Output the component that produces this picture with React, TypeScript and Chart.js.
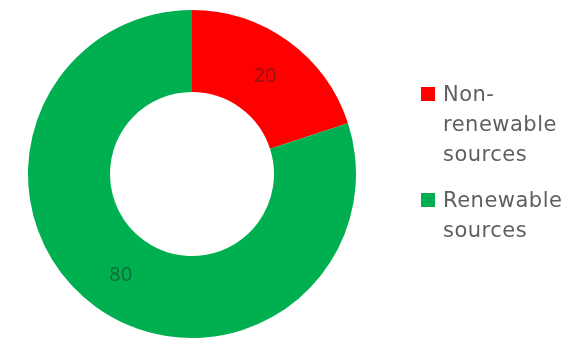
import React, { useEffect, useRef } from "react";
import { Chart, registerables } from "chart.js";

Chart.register(...registerables);

const categories = ["Non-renewable sources", "Renewable sources"];
const legendLines = [["Non-", "renewable", "sources"], ["Renewable", "sources"]];
const values = [20, 80];
const colors = ["#FF0000", "#00B050"];

const labelPlugin = {
  id: "sliceLabels",
  afterDatasetsDraw(chart: any) {
    const ctx = chart.ctx;
    const meta = chart.getDatasetMeta(0);
    ctx.save();
    ctx.font = "20px 'Open Sans'";
    ctx.fillStyle = "rgba(35,35,35,0.5)";
    ctx.textAlign = "center";
    ctx.textBaseline = "middle";
    meta.data.forEach((arc: any, i: number) => {
      const p = arc.tooltipPosition();
      ctx.fillText(String(values[i]), p.x + 1, p.y + 2);
    });
    ctx.restore();
  },
};

const legendPlugin = {
  id: "wrapLegend",
  afterDraw(chart: any) {
    const ctx = chart.ctx;
    ctx.save();
    ctx.font = "21px 'DejaVu Sans'";
    try { (ctx as any).letterSpacing = "0.5px"; } catch (e) {}
    ctx.textBaseline = "alphabetic";
    ctx.textAlign = "left";
    const lineH = 30;
    let base = 101;
    legendLines.forEach((lines, i) => {
      ctx.fillStyle = colors[i];
      ctx.fillRect(421, base - 14, 14, 14);
      ctx.fillStyle = "#5f5f5f";
      lines.forEach((t, j) => {
        ctx.fillText(t, 443, base + j * lineH);
      });
      base += (lines.length - 1) * lineH + 46;
    });
    ctx.restore();
  },
};

export default function App() {
  const ref = useRef<HTMLCanvasElement>(null);
  useEffect(() => {
    const chart = new Chart(ref.current!, {
      type: "doughnut",
      data: {
        labels: categories,
        datasets: [
          {
            data: values,
            backgroundColor: colors,
            borderWidth: 0,
          },
        ],
      },
      options: {
        responsive: false,
        animation: false,
        cutout: "50%",
        layout: { padding: { left: 28, right: 230, top: 10, bottom: 3 } },
        plugins: {
          legend: { display: false },
          tooltip: { enabled: false },
        },
      },
      plugins: [labelPlugin, legendPlugin],
    });
    return () => chart.destroy();
  }, []);
  return (
    <div style={{ position: "fixed", left: 0, top: 0, width: 586, height: 341, background: "#fff" }}>
      <canvas ref={ref} width={586} height={341} />
    </div>
  );
}
